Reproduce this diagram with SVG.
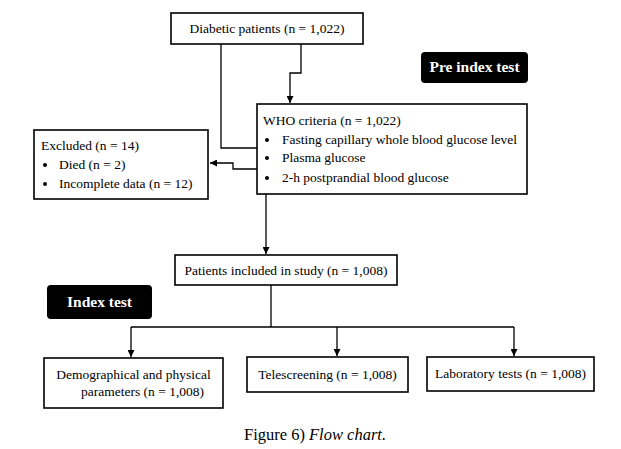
<svg xmlns="http://www.w3.org/2000/svg" width="621" height="449" viewBox="0 0 621 449">
<defs>
<style>
.box{fill:#fff;stroke:#000;stroke-width:1.6}
.tag{fill:#000}
.t{font-family:"Liberation Serif","Times New Roman",serif;font-size:13.5px;fill:#000}
.tw{font-family:"Liberation Serif","Times New Roman",serif;font-size:15.5px;font-weight:bold;fill:#fff}
.cap{font-family:"Liberation Serif","Times New Roman",serif;font-size:16.5px;fill:#000}
.ln{fill:none;stroke:#000;stroke-width:1.3}
</style>
<marker id="ah" viewBox="0 0 10 10" refX="10" refY="5" markerWidth="7" markerHeight="7" orient="auto" markerUnits="userSpaceOnUse">
<path d="M0,0 L10,5 L0,10 z" fill="#000"/>
</marker>
</defs>
<rect width="621" height="449" fill="#fff"/>
<g id="connectors">
<path class="ln" d="M221,44 V148 H257"/>
<path class="ln" d="M301,44 V73 H290 V103" marker-end="url(#ah)"/>
<path class="ln" d="M257,169 H233 V163 H210" marker-end="url(#ah)"/>
<path class="ln" d="M266,194 V254" marker-end="url(#ah)"/>
<path class="ln" d="M271,285 V327"/>
<path class="ln" d="M131,327 H514"/>
<path class="ln" d="M131,327 V357" marker-end="url(#ah)"/>
<path class="ln" d="M337,327 V356" marker-end="url(#ah)"/>
<path class="ln" d="M514,327 V356" marker-end="url(#ah)"/>
</g>
<g id="diabetic">
<rect class="box" x="171" y="13" width="192" height="31"/>
<text class="t" x="267" y="33" text-anchor="middle">Diabetic patients (n = 1,022)</text>
</g>
<g id="pre-index">
<rect class="tag" x="421" y="52" width="107" height="31" rx="4"/>
<text class="tw" x="474.5" y="72" text-anchor="middle">Pre index test</text>
</g>
<g id="who">
<rect class="box" x="257" y="104" width="270" height="90"/>
<text class="t" x="263" y="125">WHO criteria (n = 1,022)</text>
<circle cx="267" cy="140" r="2"/>
<text class="t" x="282" y="144">Fasting capillary whole blood glucose level</text>
<circle cx="267" cy="158" r="2"/>
<text class="t" x="282" y="162">Plasma glucose</text>
<circle cx="267" cy="178" r="2"/>
<text class="t" x="282" y="182">2-h postprandial blood glucose</text>
</g>
<g id="excluded">
<rect class="box" x="34" y="130" width="174" height="69"/>
<text class="t" x="41" y="150">Excluded (n = 14)</text>
<circle cx="45" cy="165" r="2"/>
<text class="t" x="59" y="169">Died (n = 2)</text>
<circle cx="45" cy="184" r="2"/>
<text class="t" x="59" y="188">Incomplete data (n = 12)</text>
</g>
<g id="included">
<rect class="box" x="175" y="255" width="222" height="30"/>
<text class="t" x="286" y="275" text-anchor="middle">Patients included in study (n = 1,008)</text>
</g>
<g id="index">
<rect class="tag" x="47" y="285" width="105" height="34" rx="4"/>
<text class="tw" x="99.5" y="307" text-anchor="middle">Index test</text>
</g>
<g id="demographical">
<rect class="box" x="44" y="358" width="179" height="50"/>
<text class="t" x="133.5" y="379" text-anchor="middle">Demographical and physical</text>
<text class="t" x="142.5" y="396" text-anchor="middle">parameters (n = 1,008)</text>
</g>
<g id="telescreening">
<rect class="box" x="247" y="357" width="161" height="35"/>
<text class="t" x="327.5" y="379" text-anchor="middle">Telescreening (n = 1,008)</text>
</g>
<g id="laboratory">
<rect class="box" x="427" y="357" width="167" height="34"/>
<text class="t" x="510.5" y="378" text-anchor="middle">Laboratory tests (n = 1,008)</text>
</g>
<text class="cap" x="315" y="440" text-anchor="middle">Figure 6) <tspan font-style="italic">Flow chart.</tspan></text>
</svg>
